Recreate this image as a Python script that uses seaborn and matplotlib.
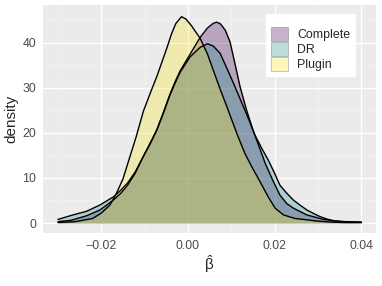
import numpy as np
import pandas as pd
import matplotlib
matplotlib.use("Agg")
import matplotlib.pyplot as plt
from matplotlib.patches import Patch
from matplotlib.ticker import FixedLocator, FixedFormatter
import seaborn as sns

# density curves (beta_hat, density)
complete_x = [-0.030, -0.027, -0.0234, -0.0203, -0.0172, -0.0155, -0.014, -0.0122, -0.0103, -0.0087,
              -0.0072, -0.0057, -0.0042, -0.003, -0.0018, 0.0005, 0.0028, 0.0045, 0.0058, 0.0066,
              0.0075, 0.0086, 0.0097, 0.0108, 0.012, 0.0135, 0.0151, 0.0162, 0.0178, 0.0195,
              0.0212, 0.0228, 0.0243, 0.0274, 0.0312, 0.035, 0.040]
complete_y = [0.3, 0.6, 1.6, 2.9, 5.1, 6.6, 8.3, 11.0, 14.8, 17.8,
              20.7, 24.5, 28.5, 31.3, 33.8, 37.5, 41.2, 43.3, 44.3, 44.6,
              44.2, 42.8, 40.2, 35.5, 30.3, 25.1, 20.3, 17.5, 13.3, 9.6,
              6.2, 4.3, 3.3, 1.8, 0.8, 0.35, 0.2]

dr_x = [-0.030, -0.0265, -0.0234, -0.0203, -0.0172, -0.0157, -0.014, -0.0122, -0.0103, -0.0087,
        -0.0072, -0.0057, -0.0042, -0.003, -0.0018, 0.0005, 0.0028, 0.0045, 0.0058, 0.0074,
        0.0089, 0.0105, 0.0128, 0.0143, 0.0155, 0.017, 0.0185, 0.020, 0.0212, 0.0228,
        0.0243, 0.0258, 0.0274, 0.029, 0.0305, 0.032, 0.0335, 0.036, 0.040]
dr_y = [0.8, 1.8, 2.6, 4.0, 5.8, 7.1, 8.8, 11.3, 14.8, 17.6,
        20.6, 24.3, 28.3, 31.0, 33.5, 36.9, 39.0, 39.8, 39.3, 37.7,
        34.5, 31.0, 25.8, 22.3, 19.4, 16.6, 14.0, 11.0, 8.4, 6.6,
        5.1, 4.0, 2.9, 2.1, 1.4, 0.9, 0.5, 0.3, 0.15]

plugin_x = [-0.030, -0.026, -0.022, -0.020, -0.018, -0.0165, -0.015, -0.0138, -0.012, -0.0103,
            -0.0084, -0.0072, -0.0061, -0.005, -0.0038, -0.0028, -0.0015, -0.0005, 0.0008, 0.0028,
            0.0045, 0.0058, 0.0075, 0.0089, 0.0101, 0.0115, 0.0131, 0.0147, 0.0162, 0.0175,
            0.0185, 0.0201, 0.022, 0.0247, 0.0275, 0.030, 0.033, 0.036, 0.040]
plugin_y = [0.1, 0.3, 1.0, 2.2, 4.0, 6.6, 9.8, 13.5, 19.0, 24.8,
            29.6, 32.5, 35.5, 38.5, 42.0, 44.3, 45.8, 45.3, 43.8, 41.0,
            37.5, 34.0, 29.5, 26.0, 22.9, 19.3, 15.5, 12.5, 9.9, 7.6,
            5.8, 3.3, 1.8, 1.0, 0.7, 0.4, 0.2, 0.1, 0.1]

methods = ["Complete", "DR", "Plugin"]
colors = ["#440154", "#21908C", "#FDE725"]

df = pd.concat([
    pd.DataFrame({"beta": complete_x, "density": complete_y, "method": "Complete"}),
    pd.DataFrame({"beta": dr_x, "density": dr_y, "method": "DR"}),
    pd.DataFrame({"beta": plugin_x, "density": plugin_y, "method": "Plugin"}),
], ignore_index=True)

x_ticks = [-0.02, 0.00, 0.02, 0.04]
x_tick_labels = ["\u22120.02", "0.00", "0.02", "0.04"]
x_minor = [-0.03, -0.01, 0.01, 0.03]
y_ticks = [0, 10, 20, 30, 40]
y_minor = [5, 15, 25, 35, 45]

sns.set_theme(style="darkgrid")
plt.rcParams["font.family"] = ["Liberation Sans", "DejaVu Sans"]
plt.rcParams["mathtext.default"] = "regular"

fig, ax = plt.subplots(figsize=(3.82, 2.86), dpi=100)
fig.subplots_adjust(left=43 / 382, right=376 / 382, top=1 - 5 / 286, bottom=1 - 233 / 286)
ax.set_facecolor("#EBEBEB")

for m, c in zip(methods, colors):
    sub = df[df["method"] == m]
    ax.fill_between(sub["beta"], 0, sub["density"], color=c, alpha=0.3, lw=0, zorder=2)
    sns.lineplot(data=sub, x="beta", y="density", color="black", lw=1.0, ax=ax,
                 legend=False, zorder=3, sort=False)

ax.set_xlim(-0.03345, 0.04337)
ax.set_ylim(-2.22, 48.4)
ax.xaxis.set_major_locator(FixedLocator(x_ticks))
ax.xaxis.set_major_formatter(FixedFormatter(x_tick_labels))
ax.xaxis.set_minor_locator(FixedLocator(x_minor))
ax.yaxis.set_major_locator(FixedLocator(y_ticks))
ax.yaxis.set_minor_locator(FixedLocator(y_minor))
ax.grid(which="major", color="white", lw=1.0, zorder=0)
ax.grid(which="minor", color="#F5F5F5", lw=0.5, zorder=0)
ax.set_axisbelow(True)
for s in ax.spines.values():
    s.set_visible(False)
ax.tick_params(which="major", length=2.8, width=0.8, color="#333333",
               labelcolor="#4D4D4D", labelsize=8.9, pad=2)
ax.tick_params(which="minor", length=0)

ax.set_xlabel(r"$\hat{\beta}$", fontsize=11, labelpad=1)
ax.set_ylabel("density", fontsize=11, labelpad=3)

handles = [Patch(facecolor=matplotlib.colors.to_rgba(c, 0.3), edgecolor=(0, 0, 0, 0.25), lw=0.6)
           for c in colors]
leg = ax.legend(handles, methods, loc="upper right", bbox_to_anchor=(0.937, 0.9605),
                frameon=True, fancybox=False, framealpha=1, facecolor="white", edgecolor="white",
                fontsize=8.9, handlelength=1.4, handleheight=1.4, labelspacing=0.06,
                handletextpad=0.72, borderpad=0.4, borderaxespad=0, title=" ",
                title_fontsize=6)

fig.savefig("out.png", dpi=100)
